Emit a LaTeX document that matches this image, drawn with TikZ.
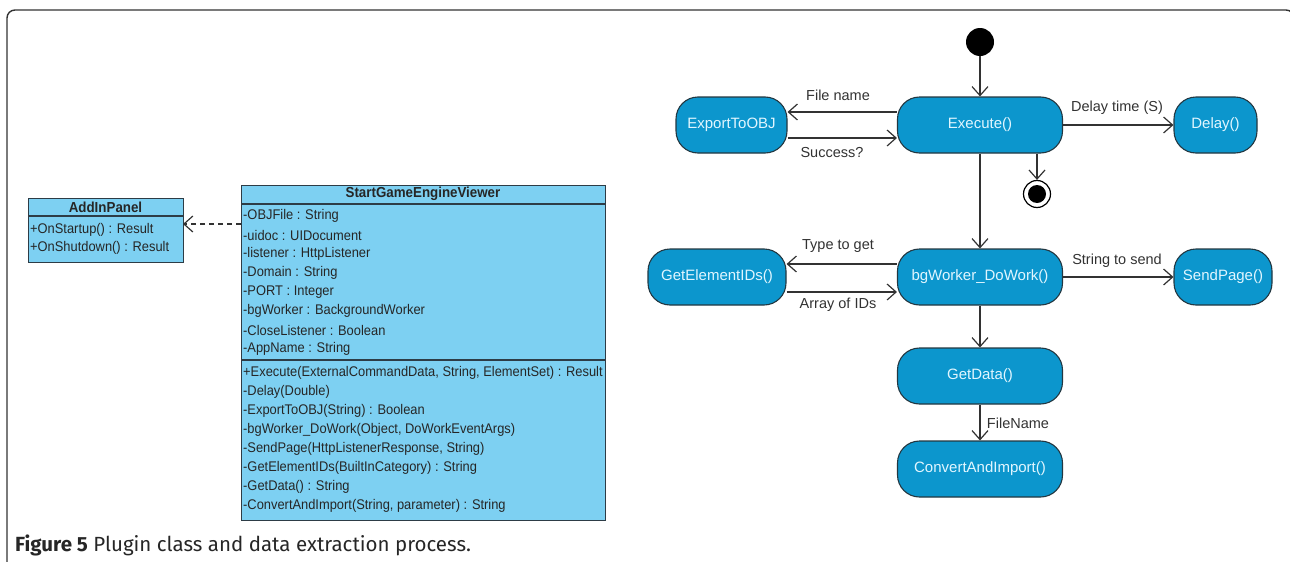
\documentclass[tikz,border=0pt]{standalone}
\usepackage{fontspec}
\setmainfont{Liberation Sans}
\newfontfamily\narrowfont[FakeStretch=0.92]{Liberation Sans}
\newfontfamily\capfont{Fira Sans}
\usetikzlibrary{arrows.meta,calc}
\definecolor{stfill}{RGB}{12,150,205}
\definecolor{stdraw}{RGB}{35,55,65}
\definecolor{sttext}{RGB}{225,246,255}
\definecolor{clfill}{RGB}{125,208,242}
\definecolor{clline}{RGB}{45,60,70}
\definecolor{lncol}{RGB}{50,50,50}
\tikzset{
  stbox/.style={draw=stdraw, line width=1.1pt, fill=stfill, rounded corners=22pt,
    minimum height=56pt, inner sep=0pt, text=sttext, font=\fontsize{15}{17}\selectfont},
  arr/.style={draw=lncol, line width=1.2pt, -{Straight Barb[length=9pt,width=16pt,line width=1.2pt]}},
  lbl/.style={text=lncol, font=\fontsize{14.5}{16}\selectfont, inner sep=0pt},
  cltext/.style={anchor=west, inner sep=0pt, font=\narrowfont\fontsize{14}{16}\selectfont, text=black!85},
  cltitle/.style={inner sep=0pt, font=\narrowfont\bfseries\fontsize{14.5}{16}\selectfont, text=black!85},
  clbox/.style={draw=clline, line width=1.1pt, fill=clfill, inner sep=0pt, anchor=north west},
}
\begin{document}
\begin{tikzpicture}[x=1pt,y=-1pt]
\useasboundingbox (0,0) rectangle (1290,562);
% frame
\draw[line width=1.4pt, draw=black!80, rounded corners=8pt] (7,575) -- (7,10) -- (1294,10) -- (1294,575);
% AddInPanel class
\node[clbox, minimum width=155pt, minimum height=64pt] (aip) at (28,198) {};
\draw[clline, line width=1.1pt] (28,216) -- (183,216);
\node[cltitle] (aipt) at (105.5,207) {AddInPanel};
\node[cltext] (aip1) at (30,230) {+OnStartup() : Result};
\node[cltext] (aip2) at (30,248) {+OnShutdown() : Result};
% StartGameEngineViewer class
\node[clbox, minimum width=364pt, minimum height=335pt] (sg) at (241,185) {};
\draw[clline, line width=1.1pt] (241,204) -- (605,204);
\draw[clline, line width=1.1pt] (241,360) -- (605,360);
\node[cltitle] (sgt) at (423,194) {StartGameEngineViewer};
\foreach \t [count=\i] in {{-OBJFile : String},{-uidoc : UIDocument},{-listener : HttpListener},{-Domain : String},{-PORT : Integer},{-bgWorker : BackgroundWorker},{-CloseListener : Boolean},{-AppName : String}}
  \node[cltext] (att\i) at (243,{216+19*(\i-1)}) {\t};
\foreach \t [count=\i] in {{+Execute(ExternalCommandData, String, ElementSet) : Result},{-Delay(Double)},{-ExportToOBJ(String) : Boolean},{-bgWorker\_DoWork(Object, DoWorkEventArgs)},{-SendPage(HttpListenerResponse, String)},{-GetElementIDs(BuiltInCategory) : String},{-GetData() : String},{-ConvertAndImport(String, parameter) : String}}
  \node[cltext] (met\i) at (243,{373+19*(\i-1)}) {\t};
% dependency
\coordinate (depS) at (241,224);
\coordinate (depE) at (183,224);
\draw[draw=lncol, line width=1.2pt, dash pattern=on 5pt off 4pt, -{Straight Barb[length=9pt,width=16pt,line width=1.2pt]}] (depS) -- (depE);
% activity diagram
\node[circle, fill=black, minimum size=28pt, inner sep=0pt] (init) at (980,42) {};
\node[stbox, minimum width=165pt] (exec) at (980,125) {Execute()};
\node[stbox, minimum width=111pt] (exp) at (731.5,125) {ExportToOBJ};
\node[stbox, minimum width=83pt] (del) at (1215.5,125) {Delay()};
\node[circle, draw=black, line width=1.2pt, fill=white, minimum size=27pt, inner sep=0pt] (fin) at (1037,194) {};
\node[circle, fill=black, minimum size=18pt, inner sep=0pt] (finin) at (fin) {};
\node[stbox, minimum width=165pt] (bg) at (980,277) {bgWorker\_DoWork()};
\node[stbox, minimum width=138pt] (gei) at (717,277) {GetElementIDs()};
\node[stbox, minimum width=98pt] (sp) at (1223,277) {SendPage()};
\node[stbox, minimum width=165pt] (gd) at (980,376) {GetData()};
\node[stbox, minimum width=165pt] (cai) at (980,469) {ConvertAndImport()};
% connectors
\draw[arr] (init) -- (exec);
\draw[arr] ([yshift=13pt]exec.west) -- ([yshift=13pt]exp.east);
\draw[arr] ([yshift=-13pt]exp.east) -- ([yshift=-13pt]exec.west);
\draw[arr] (exec) -- (del);
\draw[arr] (exec.south -| fin) -- (fin);
\draw[arr] (exec) -- (bg);
\draw[arr] ([yshift=13pt]bg.west) -- ([yshift=13pt]gei.east);
\draw[arr] ([yshift=-15pt]gei.east) -- ([yshift=-15pt]bg.west);
\draw[arr] (bg) -- (sp);
\draw[arr] (bg) -- (gd);
\draw[arr] (gd) -- (cai);
% labels
\node[lbl] (l1) at (838,95) {File name};
\node[lbl] (l2) at (832,153) {Success?};
\node[lbl] (l3) at (1117,108) {Delay time (S)};
\node[lbl] (l4) at (838,246) {Type to get};
\node[lbl] (l5) at (838,305) {Array of IDs};
\node[lbl] (l6) at (1117,261) {String to send};
\node[lbl] (l7) at (1018,423) {FileName};
% caption
\node[anchor=west, inner sep=0pt, font=\capfont\fontsize{20.5}{22}\selectfont, text=black!85] (cap) at (15,545) {\textbf{Figure 5} Plugin class and data extraction process.};
\end{tikzpicture}
\end{document}
